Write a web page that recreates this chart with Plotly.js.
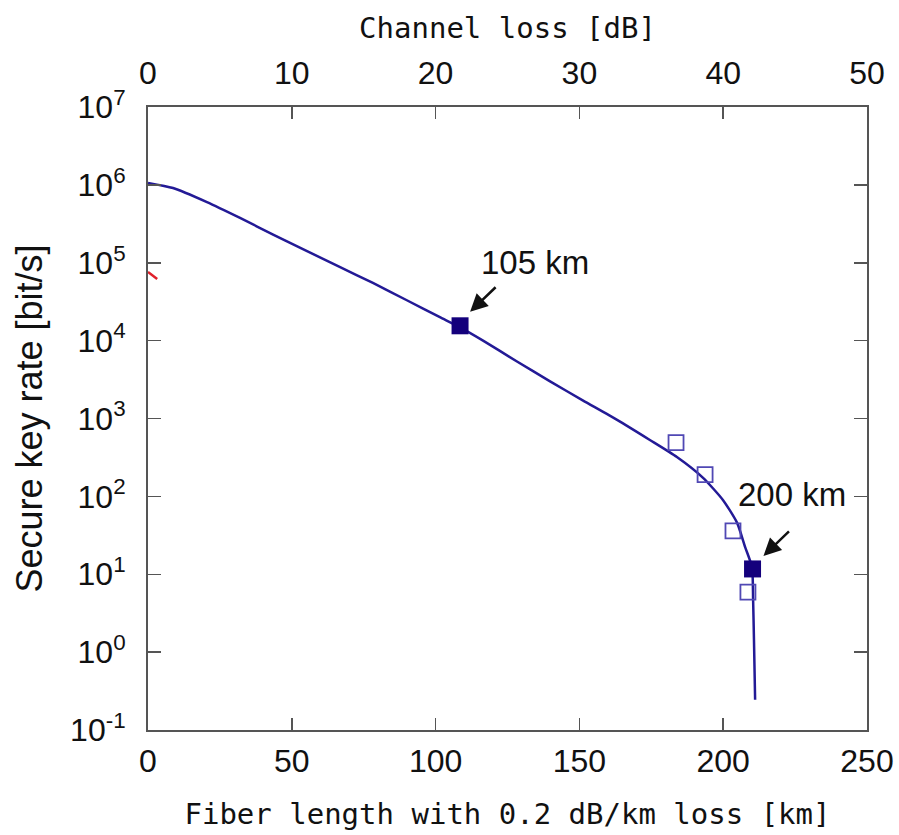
<!DOCTYPE html>
<html>
<head>
<meta charset="utf-8">
<script src="https://cdn.plot.ly/plotly-3.0.1.min.js"></script>
<style>html,body{margin:0;padding:0;background:#fff;}</style>
</head>
<body>
<div id="chart" style="width:899px;height:835px;"></div>
<script>
// Simulated secure key rate curve (fiber length km, rate bit/s)
const curveKm   = [0, 8.7, 20.5, 32.0, 43.5, 55.3, 66.8, 78.2, 90.0, 101.5, 108.5, 116.5, 128.3, 139.8, 151.3, 163.1, 174.5, 183.9, 193.0, 199.9, 204.8, 207.6, 210.0, 210.4, 210.7, 211.1];
const curveRate = [1.06e6, 9.1e5, 6.0e5, 3.76e5, 2.3e5, 1.41e5, 8.8e4, 5.5e4, 3.3e4, 2.0e4, 1.48e4, 1.0e4, 5.4e3, 3.0e3, 1.7e3, 960, 530, 320, 173, 90, 46, 22.5, 12.4, 4.7, 1.44, 0.245];

// Red curve fragment visible at the left edge
const redKm   = [0, 3.2];
const redRate = [7.6e4, 6.2e4];

// Experimental points
const filledKm   = [108.5, 210.2];
const filledRate = [1.55e4, 11.7];
const openKm     = [183.6, 193.7, 203.4, 208.6];
const openRate   = [490, 190, 36, 5.9];

// Axis ticks
const yExponents = [-1, 0, 1, 2, 3, 4, 5, 6, 7];
const yTickText  = yExponents.map(e => '10<sup>' + e + '</sup>');
const lossTicks  = [0, 10, 20, 30, 40, 50];
const kmTicks    = [0, 50, 100, 150, 200, 250];

// Annotation labels
const labelText   = ['105 km', '200 km'];
const labelKm     = [134.6, 223.9];
const labelLogY   = [5.0, 2.02];
const arrowKm     = [112.0, 214.0];
const arrowLogY   = [4.37, 1.235];

const axisColor = '#555555';
const tickFont = {family: 'Liberation Sans, Arial, sans-serif', size: 32, color: '#111'};
const titleFont = {family: 'DejaVu Sans Mono, monospace', size: 29, color: '#111'};

const traces = [
  {x: curveKm, y: curveRate, mode: 'lines', line: {color: '#231a96', width: 2.5, shape: 'spline', smoothing: 0.6}, hoverinfo: 'skip', showlegend: false},
  {x: redKm, y: redRate, mode: 'lines', line: {color: '#e0202a', width: 2.5}, hoverinfo: 'skip', showlegend: false},
  {x: openKm, y: openRate, mode: 'markers', marker: {symbol: 'square-open', size: 15, color: '#5048b4', line: {width: 1.8, color: '#5048b4'}}, showlegend: false},
  {x: filledKm, y: filledRate, mode: 'markers', marker: {symbol: 'square', size: 17, color: '#14007c'}, showlegend: false},
  {x: [lossTicks[0], lossTicks[lossTicks.length-1]], y: [1, 1], xaxis: 'x2', mode: 'lines', line: {width: 0}, opacity: 0, hoverinfo: 'skip', showlegend: false}
];

const annotations = [];
for (let i = 0; i < labelText.length; i++) {
  annotations.push({x: labelKm[i], y: labelLogY[i], xref: 'x', yref: 'y', text: labelText[i], showarrow: false,
    font: {family: 'Liberation Sans, Arial, sans-serif', size: 33, color: '#111'}});
  annotations.push({x: arrowKm[i], y: arrowLogY[i], xref: 'x', yref: 'y', text: '', showarrow: true,
    ax: 27, ay: -26, arrowhead: 2, arrowsize: 1.4, arrowwidth: 2.5, arrowcolor: '#111'});
}

const layout = {
  width: 899, height: 835,
  margin: {l: 148, r: 32, t: 107, b: 105},
  paper_bgcolor: '#fff', plot_bgcolor: '#fff',
  showlegend: false,
  xaxis: {
    range: [0, 250], tickvals: kmTicks, ticks: 'inside', ticklen: 12, tickwidth: 1.5, tickcolor: axisColor,
    showline: true, linecolor: axisColor, linewidth: 2, showgrid: false, zeroline: false,
    tickfont: tickFont, ticklabelstandoff: 2,
    title: {text: 'Fiber length with 0.2 dB/km loss [km]', font: titleFont, standoff: 25}
  },
  xaxis2: {
    overlaying: 'x', side: 'top', anchor: 'y', range: [0, 50], tickvals: lossTicks,
    ticks: 'inside', ticklen: 12, tickwidth: 1.5, tickcolor: axisColor,
    showline: true, linecolor: axisColor, linewidth: 2, showgrid: false, zeroline: false,
    tickfont: tickFont, ticklabelstandoff: 8,
    title: {text: 'Channel loss [dB]', font: titleFont, standoff: 8}
  },
  yaxis: {
    type: 'log', range: [-1, 7], tickvals: yExponents.map(e => Math.pow(10, e)), ticktext: yTickText,
    ticks: 'inside', ticklen: 13, tickwidth: 1.5, tickcolor: axisColor, mirror: 'ticks',
    showline: true, linecolor: axisColor, linewidth: 2, showgrid: false, zeroline: false,
    tickfont: tickFont, ticklabelstandoff: 14,
    title: {text: 'Secure key rate [bit/s]', font: {family: 'Liberation Sans, Arial, sans-serif', size: 36, color: '#111'}, standoff: 16}
  },
  annotations: annotations
};

Plotly.newPlot('chart', traces, layout, {displayModeBar: false, staticPlot: true});
</script>
</body>
</html>
